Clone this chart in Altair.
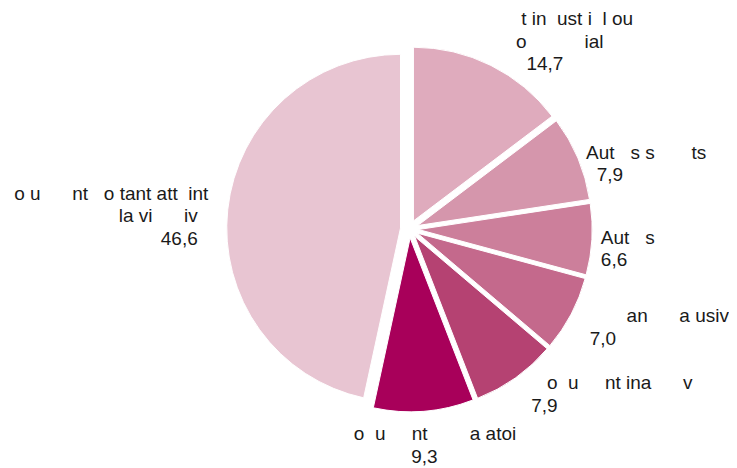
import altair as alt
import pandas as pd

N = "\u00a0"  # non-breaking space: keeps the gaps of the glyphs that are blank in the reference
G = "\u200b"  # zero-width guard so leading/trailing gaps are not trimmed

# Category label lines, as they appear in the reference (blank glyphs kept as gaps)
NAME_LINES = [
    [N * 5 + "t" + N + "in" + N * 2 + "ust" + N + "i" + N * 2 + "l" + N + "ou",
     N * 4 + "o" + N * 11 + "ial"],
    ["Aut" + N * 3 + "s" + N + "s" + N * 7 + "ts"],
    ["Aut" + N * 3 + "s"],
    [N * 9 + "an" + N * 6 + "a" + N + "usiv"],
    [N * 5 + "o" + N * 2 + "u" + N * 5 + "nt" + N + "ina" + N * 6 + "v"],
    [N * 4 + "o" + N * 2 + "u" + N * 5 + "nt" + N * 8 + "a" + N + "atoi"],
    ["o" + N + "u" + N * 6 + "nt" + N * 3 + "o" + N + "tant" + N + "att" + N * 2 + "int" + N * 2,
     "la" + N + "vi" + N * 6 + "iv" + N * 4],
]
VALUES = [14.7, 7.9, 6.6, 7.0, 7.9, 9.3, 46.6]
COLORS = ["#dfabbd", "#d596ac", "#cc7f9b", "#c4698c", "#b54272", "#a8005a", "#e8c5d2"]
VALUE_LEAD = [6, 2, 0, 2, 2, 0, 0]
VALUE_TRAIL = [0, 0, 0, 0, 0, 0, 4]

keys = [" ".join(" ".join(l.replace(N, " ").split()) for l in lines) for lines in NAME_LINES]


def guard(line):
    return G + line + G


labels = [
    "\n".join(guard(l) for l in lines + [N * a + f"{v:.1f}".replace(".", ",") + N * b])
    for lines, v, a, b in zip(NAME_LINES, VALUES, VALUE_LEAD, VALUE_TRAIL)
]

df = pd.DataFrame({"key": keys, "value": VALUES, "label": labels, "order": list(range(len(VALUES)))})

W, H = 722, 460
CX, CY = 402, 221
R_PIE = 174
EXPLODE = 9
R_LABEL = 192

base = (
    alt.Chart(df)
    .transform_window(cum="sum(value)", sort=[alt.SortField("order")], frame=[None, 0])
    .transform_joinaggregate(total="sum(value)")
    .transform_calculate(
        t0="(datum.cum - datum.value) / datum.total * 2 * PI",
        t1="datum.cum / datum.total * 2 * PI",
    )
    .transform_calculate(mid="(datum.t0 + datum.t1) / 2")
    .transform_calculate(
        px=f"{CX} + {EXPLODE} * sin(datum.mid)",
        py=f"{CY} - {EXPLODE} * cos(datum.mid)",
        lx=f"{CX} + {R_LABEL} * sin(datum.mid)",
        ly=f"{CY} - {R_LABEL} * cos(datum.mid)",
        s="sin(datum.mid)",
        c="cos(datum.mid)",
    )
)

pie = base.mark_arc(radius=R_PIE, stroke="white", strokeWidth=1).encode(
    theta=alt.Theta("t0:Q", scale=None),
    theta2="t1:Q",
    x=alt.X("px:Q", scale=None, axis=None),
    y=alt.Y("py:Q", scale=None, axis=None),
    color=alt.Color("key:N", scale=alt.Scale(domain=keys, range=COLORS), legend=None),
)


def text_layer(expr, align, baseline, dy):
    return base.transform_filter(expr).mark_text(
        align=align,
        baseline=baseline,
        dy=dy,
        lineBreak="\n",
        lineHeight=22.5,
        font="Liberation Sans",
        fontSize=19,
        color="#1a1a1a",
    ).encode(
        x=alt.X("lx:Q", scale=None, axis=None),
        y=alt.Y("ly:Q", scale=None, axis=None),
        text="label:N",
    )


texts = [
    text_layer("datum.s > 0.3 && datum.c > 0.5", "left", "bottom", -28),
    text_layer("datum.s > 0.3 && datum.c <= 0.5", "left", "middle", -2),
    text_layer("abs(datum.s) <= 0.3 && datum.c < 0", "center", "top", 5),
    text_layer("datum.s < -0.3", "right", "middle", -15),
]

chart = (
    alt.layer(pie, *texts)
    .properties(width=W, height=H, autosize="none", padding=0)
    .configure_view(stroke=None)
)

chart.save("out.html", embed_options={"renderer": "svg", "actions": False})
